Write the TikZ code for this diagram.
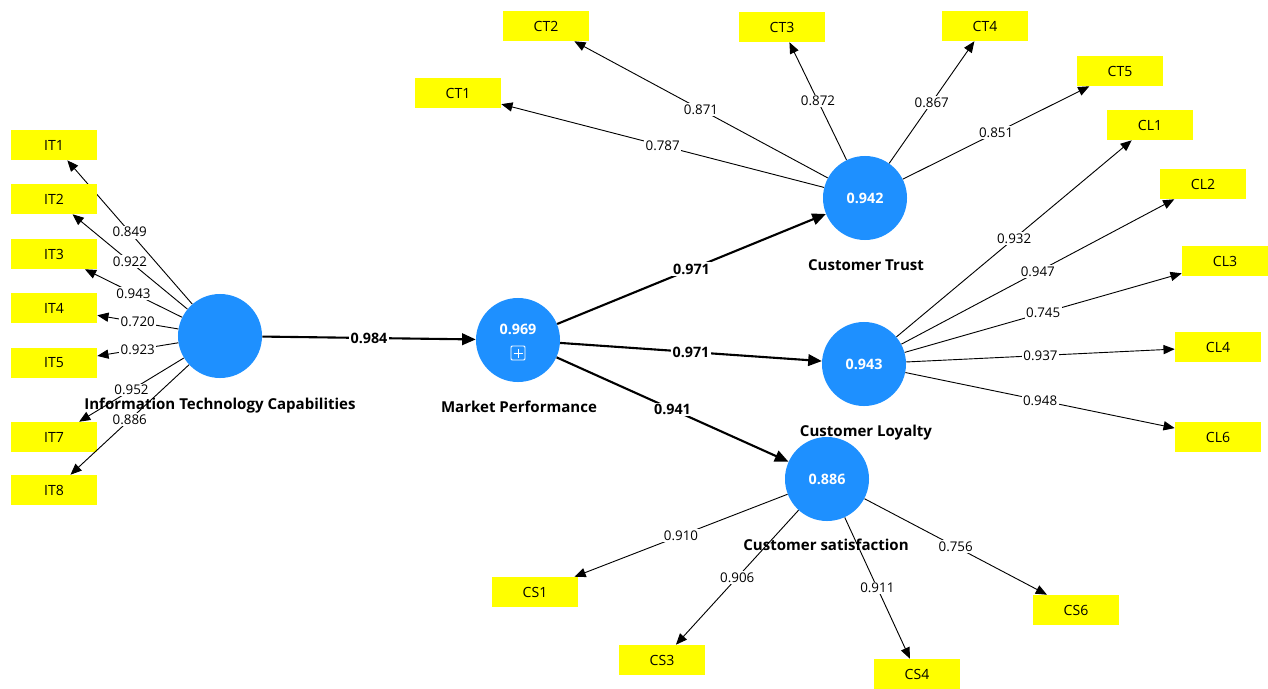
\documentclass[tikz,border=0pt]{standalone}
\usepackage{fontspec}
\setmainfont{Open Sans}
\usepackage{tikz}
\usetikzlibrary{calc, arrows.meta}

\definecolor{lvblue}{HTML}{1E90FF}
\definecolor{indyellow}{HTML}{FFFF00}

\begin{document}
\begin{tikzpicture}[x=0.025cm, y=-0.025cm, font=\fontsize{9.5}{11}\selectfont,
  lv/.style={circle, fill=lvblue, minimum size=2.1cm, inner sep=0pt,
    text=white, font=\fontsize{10.2}{12}\selectfont\bfseries},
  ind/.style={fill=indyellow, minimum width=2.15cm, minimum height=0.75cm, inner sep=0pt,
    font=\fontsize{10}{12}\selectfont},
  lvname/.style={font=\fontsize{10.7}{12}\selectfont\bfseries, text height=8pt, text depth=2pt, inner sep=0pt},
  load/.style={-{Triangle[length=2.8mm, width=2.3mm]}, line width=0.65pt},
  struct/.style={-{Triangle[length=3.4mm, width=2.9mm]}, line width=1.5pt},
  wt/.style={midway, fill=white, inner sep=1pt},
  bwt/.style={wt, font=\fontsize{10.2}{12}\selectfont\bfseries}]
  \useasboundingbox (0,0) rectangle (1268,689);
  % latent variables
  \node[lv] (itc) at (220,336) {};
  \node[lv] (mp) at (518,340) {};
  \node[lv] (ct) at (865,198) {0.942};
  \node[lv] (cl) at (864,364) {0.943};
  \node[lv] (cs) at (827,479) {0.886};
  % R-square of market performance and its expand icon
  \node[text=white, font=\fontsize{10.2}{12}\selectfont\bfseries] (mpval) at (518,329) {0.969};
  \draw[white, line width=0.7pt, rounded corners=0.8pt] (511,346) rectangle (525,360);
  \draw[white, line width=0.7pt] (518,348.5) -- (518,357.5) (513.5,353) -- (522.5,353);
  % indicators of information technology capabilities
  \foreach \n/\x/\y/\w in {IT1/54/145/0.849, IT2/54/199/0.922, IT3/54/254/0.943,
      IT4/54/308/0.720, IT5/54/363/0.923, IT7/54/437/0.952, IT8/54/490/0.886} {
    \node[ind] (\n) at (\x,\y) {\n};
    \draw[load] (itc) -- (\n) node[wt] {\w};
  }
  % indicators of customer trust
  \foreach \n/\x/\y/\w in {CT1/458/93/0.787, CT2/546/26/0.871, CT3/782/27/0.872,
      CT4/985/26/0.867, CT5/1120/71/0.851} {
    \node[ind] (\n) at (\x,\y) {\n};
    \draw[load] (ct) -- (\n) node[wt] {\w};
  }
  % indicators of customer loyalty
  \foreach \n/\x/\y/\w in {CL1/1150/125/0.932, CL2/1203/184/0.947, CL3/1225/261/0.745,
      CL4/1218/347/0.937, CL6/1218/437/0.948} {
    \node[ind] (\n) at (\x,\y) {\n};
    \draw[load] (cl) -- (\n) node[wt] {\w};
  }
  % indicators of customer satisfaction
  \foreach \n/\x/\y/\w in {CS1/535/592/0.910, CS3/662/660/0.906,
      CS4/917/674/0.911, CS6/1076/610/0.756} {
    \node[ind] (\n) at (\x,\y) {\n};
    \draw[load] (cs) -- (\n) node[wt] {\w};
  }
  % inner model
  \draw[struct] (itc) -- (mp) node[bwt] {0.984};
  \draw[struct] (mp) -- (ct) node[bwt] {0.971};
  \draw[struct] (mp) -- (cl) node[bwt] {0.971};
  \draw[struct] (mp) -- (cs) node[bwt] {0.941};
  % construct names
  \node[lvname] (itcname) at (220,405) {Information Technology Capabilities};
  \node[lvname] (mpname) at (519,408) {Market Performance};
  \node[lvname] (ctname) at (866,266) {Customer Trust};
  \node[lvname] (clname) at (866,432) {Customer Loyalty};
  \node[lvname] (csname) at (826,546) {Customer satisfaction};
\end{tikzpicture}
\end{document}
